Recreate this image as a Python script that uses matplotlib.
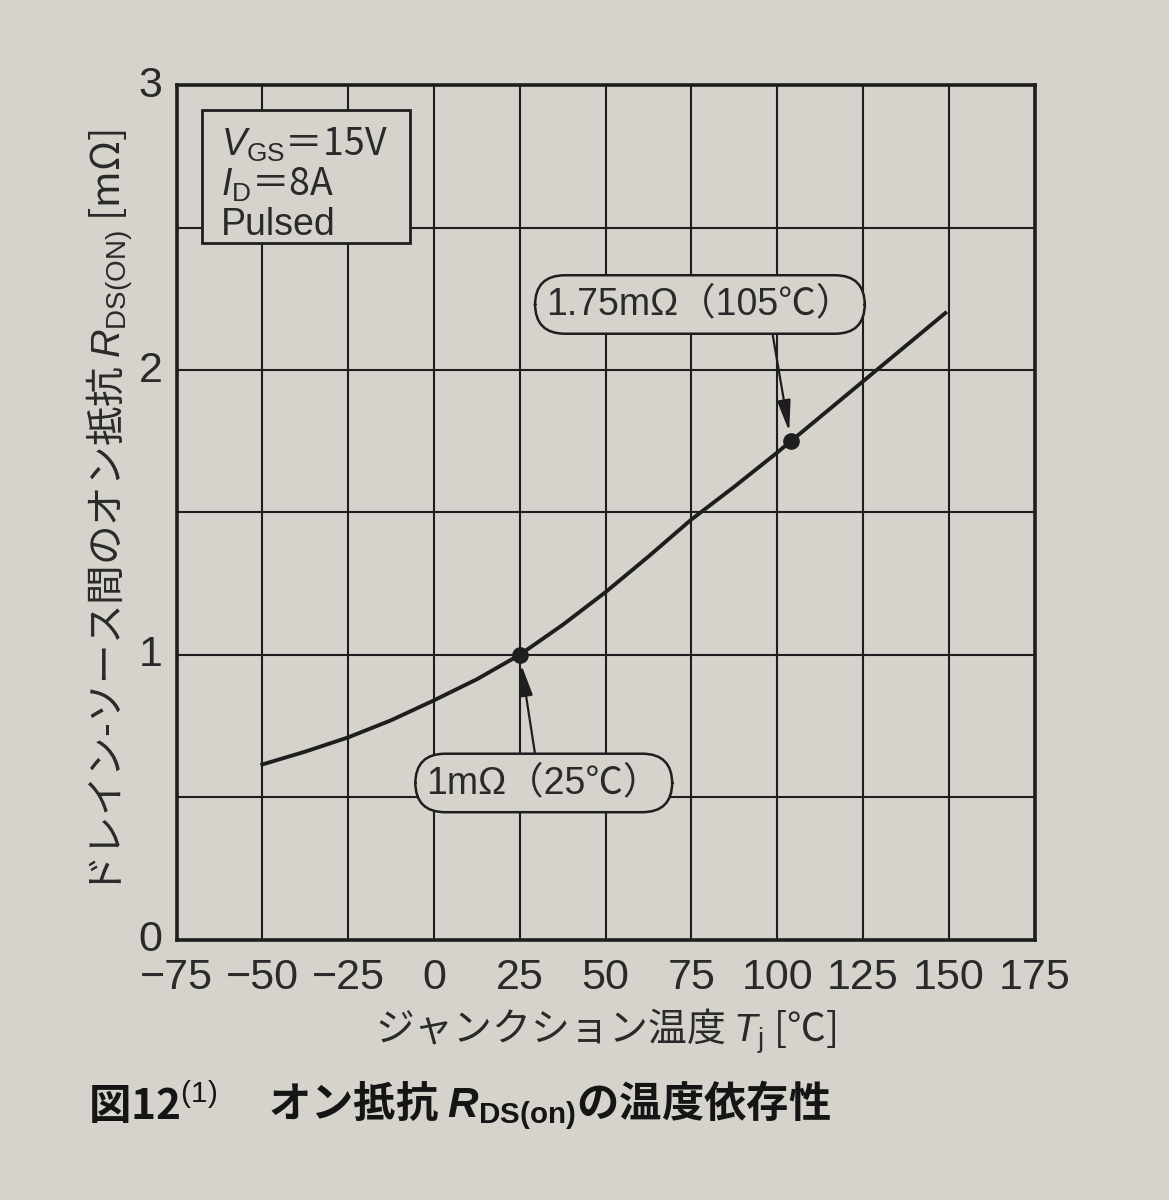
import matplotlib
matplotlib.use("Agg")
import matplotlib.pyplot as plt
from matplotlib.patches import Rectangle
from matplotlib.transforms import ScaledTranslation

# junction temperature [C] and on-resistance [mOhm]
temp = [-50, -37.5, -25, -12.5, 0, 12.5, 25, 37.5, 50, 62.5, 75, 87.5,
        100, 104, 112.5, 125, 137.5, 149]
rds = [0.615, 0.66, 0.71, 0.77, 0.84, 0.914, 1.0, 1.105, 1.22, 1.345, 1.475, 1.59,
       1.71, 1.75, 1.835, 1.96, 2.085, 2.2]

# marked points
mark_t = [25, 104]
mark_r = [1.0, 1.75]
mark_txt = ["1mΩ（25℃）", "1.75mΩ（105℃）"]
mark_txt_pos = [(32, 0.55), (77.5, 2.23)]
mark_relpos = [(0.47, 1.0), (0.73, 0.0)]

xticks = [-75, -50, -25, 0, 25, 50, 75, 100, 125, 150, 175]
yticks = [0, 0.5, 1, 1.5, 2, 2.5, 3]
ylabels = ["0", "", "1", "", "2", "", "3"]

cond_lines = ["$\\mathit{V}_{\\mathrm{GS}}$＝15V", "$\\mathit{I}_{\\mathrm{D}}$＝8A", "Pulsed"]

bg = "#d5d3cc"
ink = "#1e1e1e"
latin = ['Liberation Sans', 'Noto Sans CJK JP', 'DejaVu Sans']
cjk = ['Noto Sans CJK JP', 'DejaVu Sans']

plt.rcParams['font.family'] = cjk
plt.rcParams['mathtext.fontset'] = 'custom'
plt.rcParams['mathtext.rm'] = 'Liberation Sans'
plt.rcParams['mathtext.it'] = 'Liberation Sans:italic'
plt.rcParams['mathtext.bf'] = 'Liberation Sans:bold'
plt.rcParams['mathtext.bfit'] = 'Liberation Sans:italic:bold'
plt.rcParams['axes.unicode_minus'] = True

fig = plt.figure(figsize=(11.69, 12), dpi=100, facecolor=bg)
ax = fig.add_axes([0.151, 0.217, 0.734, 0.712])
ax.set_facecolor(bg)

ax.set_xlim(-75, 175)
ax.set_ylim(0, 3)
ax.set_xticks(xticks)
ax.set_yticks(yticks)
ax.set_yticklabels(ylabels)
ax.tick_params(length=0, labelsize=31, colors="#2a2a2a")
ax.tick_params(axis='x', pad=13)
ax.tick_params(axis='y', pad=10)
for lab in ax.get_xticklabels() + ax.get_yticklabels():
    lab.set_family(latin)
# y labels sit a little high, like in the print
for lab in ax.get_yticklabels():
    lab.set_transform(lab.get_transform() + ScaledTranslation(0, 4 / 100, fig.dpi_scale_trans))
ax.grid(True, color=ink, lw=1.5)
ax.set_axisbelow(True)
for s in ax.spines.values():
    s.set_linewidth(2.6)
    s.set_color(ink)

ax.plot(temp, rds, color=ink, lw=2.8, zorder=3, solid_joinstyle='round')
ax.plot(mark_t, mark_r, 'o', color=ink, ms=11, zorder=4)

for t, r, txt, pos, rp in zip(mark_t, mark_r, mark_txt, mark_txt_pos, mark_relpos):
    ax.annotate(txt, xy=(t, r), xytext=pos, ha='center', va='center',
                fontsize=27, color="#2a2a2a", zorder=5, family=latin,
                bbox=dict(boxstyle='round,pad=0.3,rounding_size=0.8',
                          fc=bg, ec=ink, lw=1.8),
                arrowprops=dict(arrowstyle='-|>,head_length=0.7,head_width=0.15',
                                color=ink, lw=1.6, relpos=rp,
                                shrinkA=0, shrinkB=7))

# condition box, top left
ax.add_patch(Rectangle((0.03, 0.815), 0.242, 0.156, transform=ax.transAxes,
                       fc=bg, ec=ink, lw=2.0, zorder=5))
for i, line in enumerate(cond_lines):
    fam = cjk if '＝' in line else latin
    ax.text(0.052, 0.93 - i * 0.047, line, transform=ax.transAxes, family=fam,
            ha='left', va='center', fontsize=27, color="#2a2a2a", zorder=6)

ax.set_xlabel("ジャンクション温度 $\\mathit{T}_{\\mathrm{j}}$ [℃]",
              fontsize=28, color="#2a2a2a", labelpad=6)
ax.set_ylabel("ドレイン-ソース間のオン抵抗 $\\mathit{R}_{\\mathrm{DS(ON)}}$ [mΩ]",
              fontsize=28.5, color="#2a2a2a", labelpad=2)

fig.text(0.075, 0.079, "図12$^{\\mathrm{(1)}}$", fontsize=30.5, fontweight='bold',
         color="#151515", va='center', ha='left')
fig.text(0.229, 0.079, "オン抵抗 $\\mathbfit{R}_{\\mathbf{DS(on)}}$の温度依存性",
         fontsize=30.5, fontweight='bold', color="#151515", va='center', ha='left')

fig.savefig("out.png", dpi=100, facecolor=bg)
